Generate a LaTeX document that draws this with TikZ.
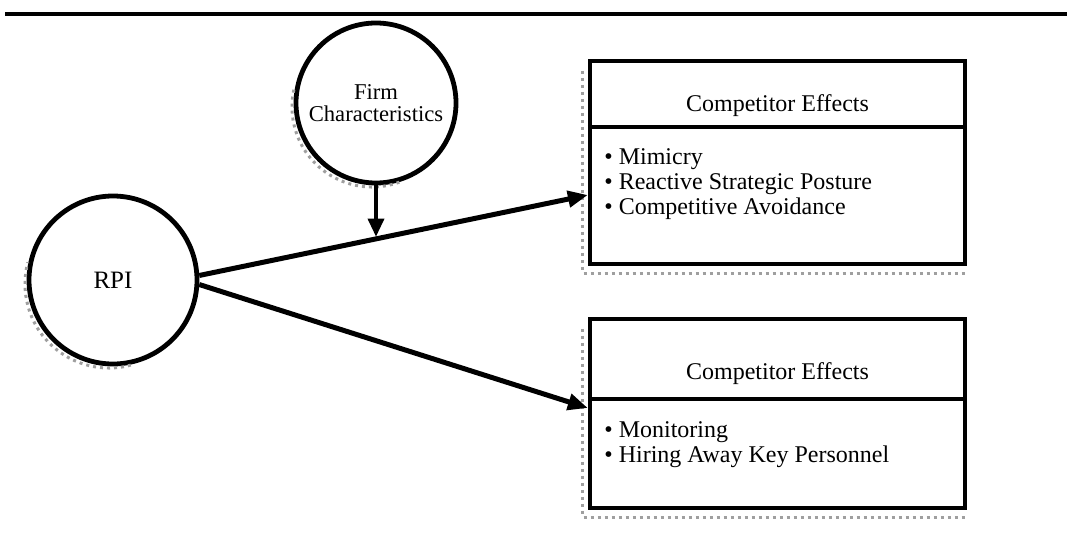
\documentclass[tikz,border=0pt]{standalone}
\usepackage{fontspec}
\setmainfont{Liberation Serif}
\usetikzlibrary{arrows.meta,calc}
\begin{document}
\begin{tikzpicture}[x=0.5pt,y=-0.5pt,
  circ/.style={circle, draw, line width=2.4pt, inner sep=0pt, align=center},
  box/.style={draw, line width=2.1pt, inner sep=0pt, minimum width=187.5pt},
  conn/.style={line width=2.5pt, -{Triangle[length=10pt,width=8pt]}},
  thinconn/.style={line width=1.7pt, -{Triangle[length=9pt,width=8pt]}},
  shade/.style={gray!75, line width=1.5pt, dotted},
  rule/.style={line width=2.2pt},
  boxtext/.style={font=\fontsize{12}{12.5}\selectfont, inner sep=0pt, align=left},
  titletext/.style={font=\fontsize{12}{12.5}\selectfont, inner sep=0pt}]
\useasboundingbox (0,0) rectangle (1071,540);

% top rule
\draw[rule] (5,14) -- (1067,14);

% circles
\node[circ, minimum size=84pt, font=\fontsize{12.5}{13}\selectfont] (rpi) at (113,280) {RPI};
\node[circ, minimum size=80pt, font=\fontsize{11.3}{11.5}\selectfont] (firm) at (376,103) {\raisebox{-3pt}{\shortstack{Firm\\Characteristics}}};

% circle shadows
\draw[shade] ([shift={(-4,4)}]rpi.center) ++(285:42pt) arc[start angle=285, end angle=165, radius=42pt];
\draw[shade] ([shift={(-4,4)}]firm.center) ++(290:40pt) arc[start angle=290, end angle=165, radius=40pt];

% boxes
\node[box, minimum height=101.5pt] (b1) at (777.5,162.5) {};
\node[box, minimum height=94.5pt] (b2) at (777.5,413.5) {};
\draw[rule] (b1.west |- 0,127) -- (b1.east |- 0,127);
\draw[rule] (b2.west |- 0,399) -- (b2.east |- 0,399);

% box shadows
\draw[shade] ([shift={(-5,12)}]b1.north west) -- ([shift={(-5,7)}]b1.south west) -- ([shift={(-2,7)}]b1.south east);
\draw[shade] ([shift={(-5,12)}]b2.north west) -- ([shift={(-5,7)}]b2.south west) -- ([shift={(-2,7)}]b2.south east);

% box texts
\node[titletext] (t1) at (777.5,106) {Competitor Effects};
\node[boxtext, anchor=west] (l1) at (604,184) {• Mimicry\\• Reactive Strategic Posture\\• Competitive Avoidance};
\node[titletext] (t2) at (777.5,374) {Competitor Effects};
\node[boxtext, anchor=west] (l2) at (604,445) {• Monitoring\\• Hiring Away Key Personnel};

% connectors
\coordinate (e1) at (b1.west |- 0,195);
\coordinate (e2) at (b2.west |- 0,408);
\draw[conn] (rpi.3.5) -- (e1);
\draw[conn] (rpi.-3.5) -- (e2);
\coordinate (m) at ($(rpi.3.5)!(firm.south)!(e1)$);
\draw[thinconn] (firm.south) -- (firm.south |- m);
\end{tikzpicture}
\end{document}
